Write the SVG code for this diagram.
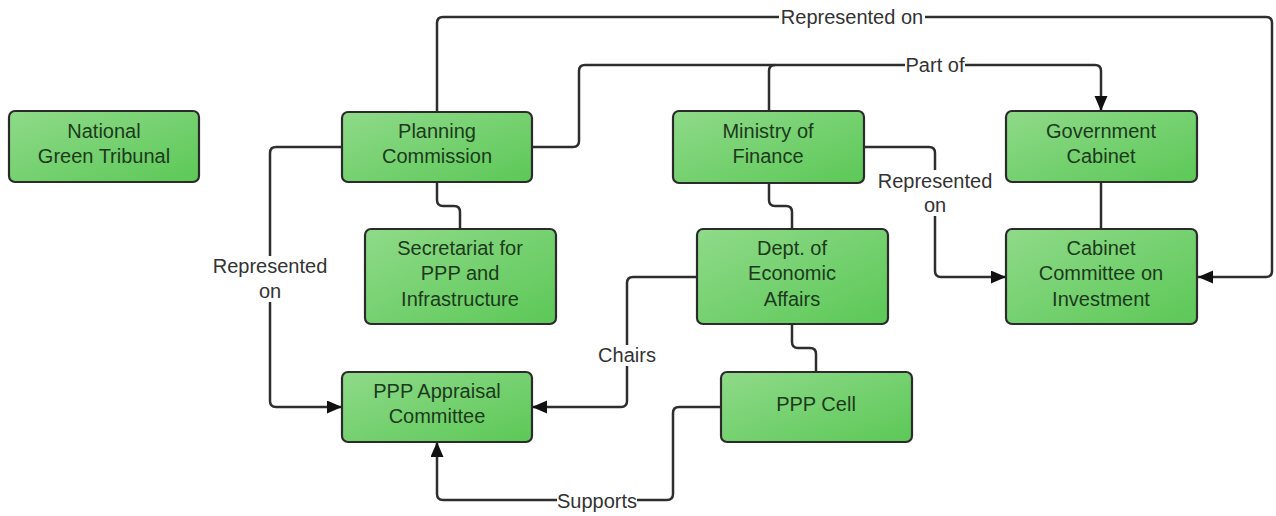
<svg xmlns="http://www.w3.org/2000/svg" width="1276" height="516" viewBox="0 0 1276 516">
<style>
.box{fill:url(#g);stroke:#2b2b2b;stroke-width:2.2}
.nt{font-family:"Liberation Sans",Arial,sans-serif;font-size:20px;fill:#1c3a1c;text-anchor:middle}
.c{fill:none;stroke:#2e2e2e;stroke-width:2.5}
.lb{font-family:"Liberation Sans",Arial,sans-serif;font-size:20px;fill:#333;text-anchor:middle}
.bg{fill:#fff}
</style>
<defs>
<linearGradient id="g" x1="0" y1="0" x2="1" y2="1">
<stop offset="0" stop-color="#8fda89"/>
<stop offset="1" stop-color="#5cc857"/>
</linearGradient>
<marker id="a" markerUnits="userSpaceOnUse" markerWidth="16" markerHeight="14" refX="15" refY="6.5" orient="auto">
<path d="M0,0 L15,6.5 L0,13 z" fill="#111"/>
</marker>
</defs>
<rect width="1276" height="516" fill="#fff"/>
<g id="connectors">
<path class="c" d="M437,112 V23 Q437,17 443,17 H1266 Q1272,17 1272,23 V271 Q1272,277 1266,277 H1198" marker-end="url(#a)"/>
<path class="c" d="M532,147 H573 Q579,147 579,141 V71 Q579,65 585,65 H1095 Q1101,65 1101,71 V111" marker-end="url(#a)"/>
<path class="c" d="M769,111 V71 Q769,65 775,65"/>
<path class="c" d="M864,147 H929 Q935,147 935,153 V271 Q935,277 941,277 H1006" marker-end="url(#a)"/>
<path class="c" d="M1101,182 V229"/>
<path class="c" d="M437,182 V200 Q437,206 443,206 H454 Q460,206 460,212 V229"/>
<path class="c" d="M769,183 V200 Q769,206 775,206 H786 Q792,206 792,212 V229"/>
<path class="c" d="M792,324 V342 Q792,348 798,348 H810 Q816,348 816,354 V372"/>
<path class="c" d="M342,147 H276 Q270,147 270,153 V401 Q270,407 276,407 H342" marker-end="url(#a)"/>
<path class="c" d="M697,277 H633 Q627,277 627,283 V401 Q627,407 621,407 H532" marker-end="url(#a)"/>
<path class="c" d="M721,407 H679 Q673,407 673,413 V494 Q673,500 667,500 H443 Q437,500 437,494 V442" marker-end="url(#a)"/>
</g>
<g id="labels">
<rect class="bg" x="779" y="7" width="146" height="21"/>
<text class="lb" x="852" y="24">Represented on</text>
<rect class="bg" x="905" y="55" width="60" height="21"/>
<text class="lb" x="935" y="72">Part of</text>
<rect class="bg" x="876" y="170" width="118" height="46"/>
<text class="lb" x="935" y="188">Represented</text>
<text class="lb" x="935" y="212">on</text>
<rect class="bg" x="211" y="256" width="118" height="46"/>
<text class="lb" x="270" y="273">Represented</text>
<text class="lb" x="270" y="298">on</text>
<rect class="bg" x="598" y="345" width="58" height="21"/>
<text class="lb" x="627" y="362">Chairs</text>
<rect class="bg" x="557" y="491" width="80" height="21"/>
<text class="lb" x="597" y="508">Supports</text>
</g>
<g id="ngt"><rect class="box" x="9" y="111" width="190" height="71" rx="6"/><text class="nt" x="104" y="138">National</text><text class="nt" x="104" y="163">Green Tribunal</text></g>
<g id="pc"><rect class="box" x="342" y="112" width="190" height="70" rx="6"/><text class="nt" x="437" y="138">Planning</text><text class="nt" x="437" y="163">Commission</text></g>
<g id="mof"><rect class="box" x="673" y="111" width="191" height="72" rx="6"/><text class="nt" x="768" y="138">Ministry of</text><text class="nt" x="768" y="163">Finance</text></g>
<g id="gc"><rect class="box" x="1006" y="111" width="191" height="71" rx="6"/><text class="nt" x="1101" y="138">Government</text><text class="nt" x="1101" y="163">Cabinet</text></g>
<g id="sec"><rect class="box" x="365" y="229" width="191" height="95" rx="6"/><text class="nt" x="460" y="255">Secretariat for</text><text class="nt" x="460" y="280">PPP and</text><text class="nt" x="460" y="306">Infrastructure</text></g>
<g id="dea"><rect class="box" x="697" y="229" width="191" height="95" rx="6"/><text class="nt" x="792" y="255">Dept. of</text><text class="nt" x="792" y="280">Economic</text><text class="nt" x="792" y="306">Affairs</text></g>
<g id="cci"><rect class="box" x="1006" y="229" width="191" height="95" rx="6"/><text class="nt" x="1101" y="255">Cabinet</text><text class="nt" x="1101" y="280">Committee on</text><text class="nt" x="1101" y="306">Investment</text></g>
<g id="ppac"><rect class="box" x="342" y="372" width="190" height="70" rx="6"/><text class="nt" x="437" y="398">PPP Appraisal</text><text class="nt" x="437" y="423">Committee</text></g>
<g id="cell"><rect class="box" x="721" y="372" width="191" height="70" rx="6"/><text class="nt" x="816" y="411">PPP Cell</text></g>
</svg>
